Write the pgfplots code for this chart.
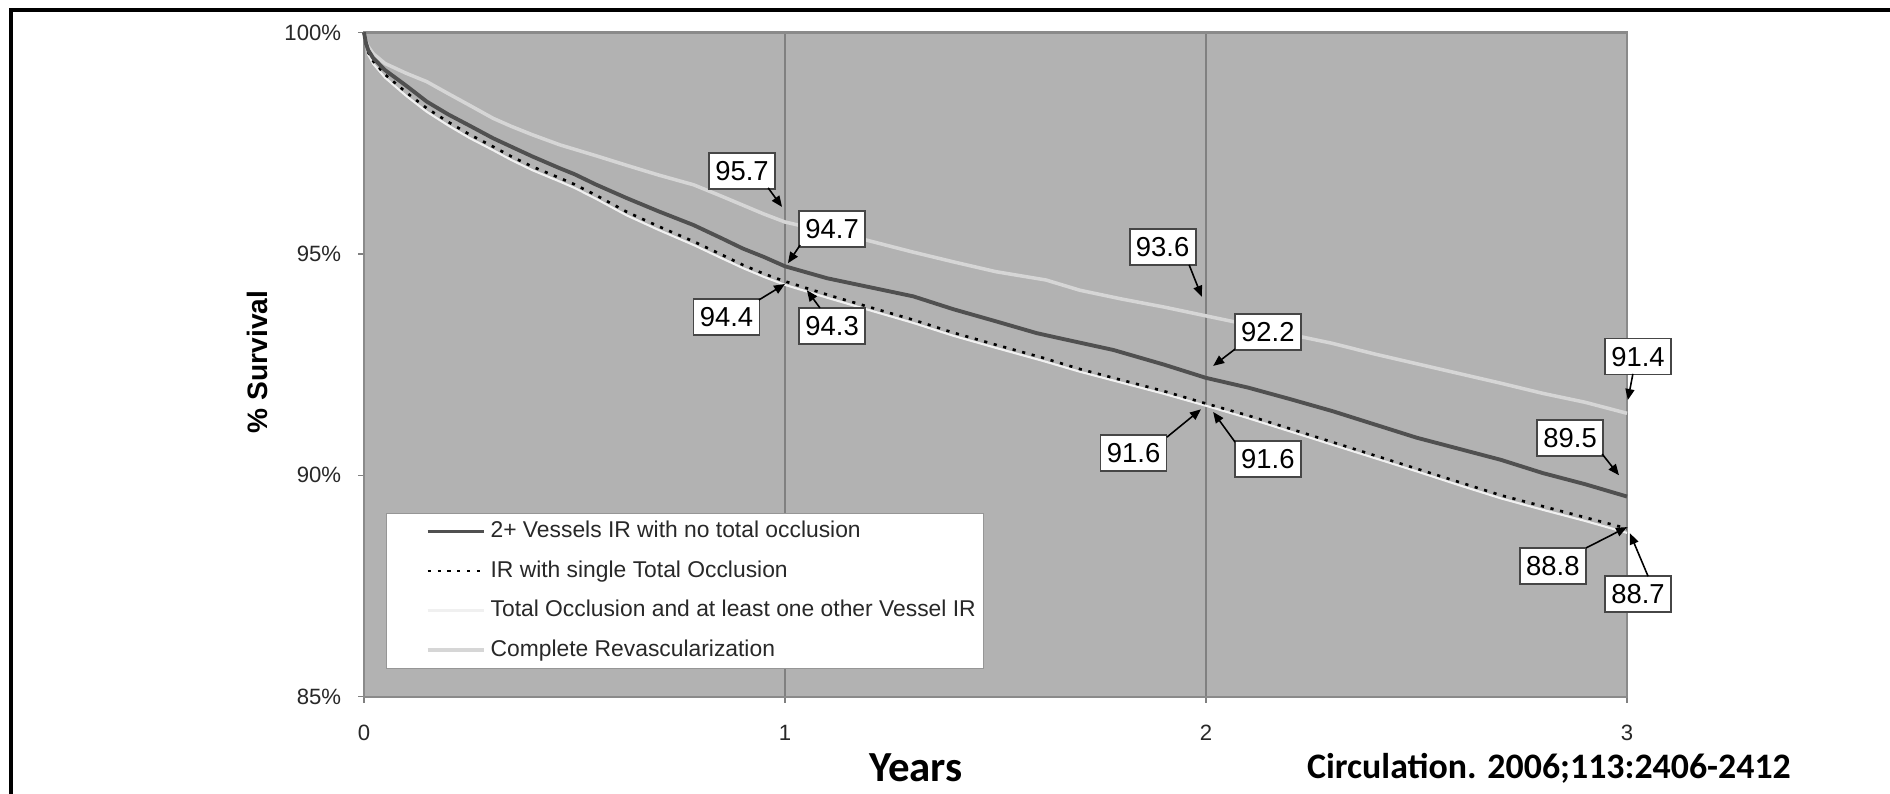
\documentclass[border=0pt]{standalone}
\usepackage{pgfplots}
\pgfplotsset{compat=1.18}
\usepackage{fontspec}
\setmainfont{Liberation Sans}
\newfontfamily\carlito{Carlito}
\usetikzlibrary{arrows.meta}

\definecolor{bg}{RGB}{178,178,178}
\definecolor{axisgray}{RGB}{138,138,138}
\definecolor{gridgray}{RGB}{128,128,128}
\definecolor{textgray}{RGB}{40,40,40}
\definecolor{darkline}{RGB}{80,80,80}
\definecolor{verylight}{RGB}{240,240,240}
\definecolor{lightline}{RGB}{214,214,214}
\definecolor{boxgray}{RGB}{70,70,70}
\definecolor{legendgray}{RGB}{150,150,150}

\tikzset{
  lbl/.style={draw=boxgray, fill=white, line width=0.5pt, minimum width=6.6mm, minimum height=3.6mm, inner sep=0pt, font=\fontsize{7.8}{8}\selectfont, text=black},
  arr/.style={-{Triangle[length=1.1mm,width=0.9mm]}, line width=0.45pt, black},
}

\begin{document}
\begin{tikzpicture}
\path[use as bounding box, fill=white] (0,0) rectangle (189mm,79.4mm);
\draw[line width=0.4mm] (1.13mm,0) -- (1.13mm,78.35mm) -- (189mm,78.35mm);
\begin{axis}[
  at={(36.4mm,9.73mm)}, anchor=south west,
  scale only axis, width=126.3mm, height=66.42mm,
  xmin=0, xmax=3, ymin=85, ymax=100,
  xtick={0,1,2,3}, ytick={85,90,95,100},
  yticklabel={\pgfmathprintnumber{\tick}\%},
  /pgf/number format/assume math mode=true,
  clip=false,
  axis background/.style={fill=bg},
  axis line style={draw=axisgray, line width=0.6pt},
  xmajorgrids, grid style={draw=gridgray, line width=0.5pt},
  tick align=outside, major tick length=0.6mm,
  tick style={draw=gridgray, line width=0.4pt},
  xtick pos=lower, ytick pos=left,
  tick label style={font=\fontsize{6.3}{7}\selectfont, text=textgray},
  yticklabel style={xshift=-0.45mm},
  xticklabel style={yshift=-1mm},
  xlabel={Years}, ylabel={\% Survival},
  every axis x label/.style={at={(rel axis cs:0.437,-0.107)}, anchor=center, font=\carlito\bfseries\fontsize{12.2}{13}\selectfont},
  every axis y label/.style={at={(rel axis cs:-0.0847,0.504)}, rotate=90, anchor=center, font=\bfseries\fontsize{8}{9}\selectfont},
  legend style={at={(rel axis cs:0.0174,0.0417)}, anchor=south west, draw=legendgray, line width=0.4pt, fill=white,
    font=\fontsize{6.5}{7}\selectfont, text=textgray, inner sep=0.3mm, row sep=0.9mm,
    nodes={inner sep=0.5mm, text height=1.65mm, text depth=0.4mm}},
  legend cell align=left,
  legend image code/.code={\path[draw=none] (-3.8mm,0) -- (0mm,0); \draw[#1] (0mm,0mm) -- (5.6mm,0mm);},
]
\addlegendimage{draw=darkline, line width=1.1pt}
\addlegendentry{2+ Vessels IR with no total occlusion}
\addlegendimage{draw=black, line width=0.75pt, dash pattern=on 0.9pt off 1.9pt}
\addlegendentry{IR with single Total Occlusion}
\addlegendimage{draw=verylight, line width=0.6pt}
\addlegendentry{Total Occlusion and at least one other Vessel IR}
\addlegendimage{draw=lightline, line width=1.0pt}
\addlegendentry{Complete Revascularization}

% Complete Revascularization
\addplot[forget plot, draw=lightline, line width=1.0pt] coordinates {
(0,100) (0.005,99.8) (0.01,99.68) (0.022,99.52) (0.05,99.3) (0.1,99.08) (0.149,98.89)
(0.2,98.62) (0.25,98.36) (0.307,98.06) (0.35,97.88) (0.4,97.69) (0.466,97.46) (0.55,97.22)
(0.624,97.0) (0.7,96.78) (0.783,96.56) (0.85,96.3) (0.9,96.1) (0.95,95.9) (1.0,95.72)
(1.1,95.5) (1.19,95.32) (1.3,95.05) (1.4,94.82) (1.5,94.6) (1.62,94.41) (1.7,94.18)
(1.8,93.98) (1.9,93.8) (2.0,93.6) (2.1,93.4) (2.2,93.18) (2.3,92.98) (2.4,92.74)
(2.5,92.52) (2.6,92.3) (2.7,92.08) (2.8,91.85) (2.9,91.65) (3.0,91.4)};

% Total Occlusion and at least one other Vessel IR
\addplot[forget plot, draw=verylight, line width=0.6pt] coordinates {
(0,100) (0.005,99.68) (0.01,99.5) (0.022,99.29) (0.05,98.98) (0.1,98.57) (0.149,98.21)
(0.2,97.9) (0.25,97.62) (0.307,97.34) (0.35,97.12) (0.4,96.89) (0.466,96.63) (0.5,96.49)
(0.55,96.25) (0.624,95.87) (0.7,95.54) (0.783,95.2) (0.85,94.9) (0.9,94.68) (0.95,94.48)
(1.0,94.3) (1.1,94.01) (1.2,93.73) (1.305,93.44) (1.4,93.15) (1.5,92.88) (1.61,92.59)
(1.7,92.34) (1.8,92.09) (1.9,91.84) (2.0,91.57) (2.1,91.29) (2.2,90.99) (2.3,90.69)
(2.4,90.39) (2.5,90.09) (2.6,89.78) (2.7,89.48) (2.8,89.22) (2.9,88.97) (3.0,88.7)};

% IR with single Total Occlusion
\addplot[forget plot, draw=black, line width=0.75pt, dash pattern=on 0.9pt off 1.9pt] coordinates {
(0,100) (0.005,99.72) (0.01,99.55) (0.022,99.35) (0.05,99.05) (0.1,98.65) (0.149,98.29)
(0.2,97.98) (0.25,97.7) (0.307,97.42) (0.35,97.2) (0.4,96.97) (0.466,96.71) (0.5,96.57)
(0.55,96.33) (0.624,95.95) (0.7,95.62) (0.783,95.28) (0.85,94.98) (0.9,94.75) (0.95,94.55)
(1.0,94.38) (1.1,94.08) (1.2,93.8) (1.305,93.51) (1.4,93.22) (1.5,92.95) (1.61,92.66)
(1.7,92.4) (1.8,92.15) (1.9,91.9) (2.0,91.62) (2.1,91.35) (2.2,91.05) (2.3,90.75)
(2.4,90.45) (2.5,90.15) (2.6,89.85) (2.7,89.55) (2.8,89.3) (2.9,89.05) (3.0,88.8)};

% 2+ Vessels IR with no total occlusion
\addplot[forget plot, draw=darkline, line width=1.1pt] coordinates {
(0,100) (0.005,99.75) (0.01,99.6) (0.022,99.42) (0.05,99.15) (0.1,98.8) (0.149,98.44)
(0.2,98.15) (0.25,97.9) (0.307,97.61) (0.35,97.42) (0.4,97.2) (0.466,96.93) (0.5,96.8)
(0.55,96.57) (0.624,96.26) (0.7,95.96) (0.783,95.65) (0.85,95.35) (0.9,95.12) (0.95,94.93)
(1.0,94.72) (1.1,94.45) (1.2,94.25) (1.305,94.04) (1.4,93.75) (1.5,93.48) (1.598,93.21)
(1.65,93.1) (1.78,92.83) (1.9,92.5) (2.0,92.2) (2.1,91.98) (2.2,91.72) (2.3,91.45)
(2.4,91.15) (2.5,90.85) (2.6,90.6) (2.7,90.35) (2.8,90.05) (2.9,89.8) (3.0,89.52)};

% value labels
\node[lbl] at (axis cs:0.898,96.88) {95.7};
\draw[arr] (axis cs:0.960,96.49) -- (axis cs:0.993,96.06);
\node[lbl] at (axis cs:1.112,95.57) {94.7};
\draw[arr] (axis cs:1.036,95.20) -- (axis cs:1.007,94.79);
\node[lbl] at (axis cs:0.861,93.57) {94.4};
\draw[arr] (axis cs:0.938,93.96) -- (axis cs:1.000,94.32);
\node[lbl] at (axis cs:1.112,93.37) {94.3};
\draw[arr] (axis cs:1.083,93.78) -- (axis cs:1.052,94.18);
\node[lbl] at (axis cs:1.897,95.15) {93.6};
\draw[arr] (axis cs:1.960,94.75) -- (axis cs:1.990,94.03);
\node[lbl] at (axis cs:2.147,93.23) {92.2};
\draw[arr] (axis cs:2.069,92.85) -- (axis cs:2.017,92.47);
\node[lbl] at (axis cs:1.828,90.50) {91.6};
\draw[arr] (axis cs:1.907,90.86) -- (axis cs:1.988,91.49);
\node[lbl] at (axis cs:2.147,90.37) {91.6};
\draw[arr] (axis cs:2.069,90.75) -- (axis cs:2.017,91.43);
\node[lbl] at (axis cs:3.026,92.68) {91.4};
\draw[arr] (axis cs:3.014,92.29) -- (axis cs:3.002,91.70);
\node[lbl] at (axis cs:2.865,90.85) {89.5};
\draw[arr] (axis cs:2.941,90.48) -- (axis cs:2.981,90.00);
\node[lbl] at (axis cs:2.824,87.95) {88.8};
\draw[arr] (axis cs:2.903,88.36) -- (axis cs:3.000,88.83);
\node[lbl] at (axis cs:3.026,87.32) {88.7};
\draw[arr] (axis cs:3.050,87.72) -- (axis cs:3.007,88.69);
\end{axis}
\node[font=\carlito\bfseries\fontsize{10.2}{11}\selectfont] at (154.9mm,2.6mm) {Circulation. 2006;113:2406-2412};
\end{tikzpicture}
\end{document}
